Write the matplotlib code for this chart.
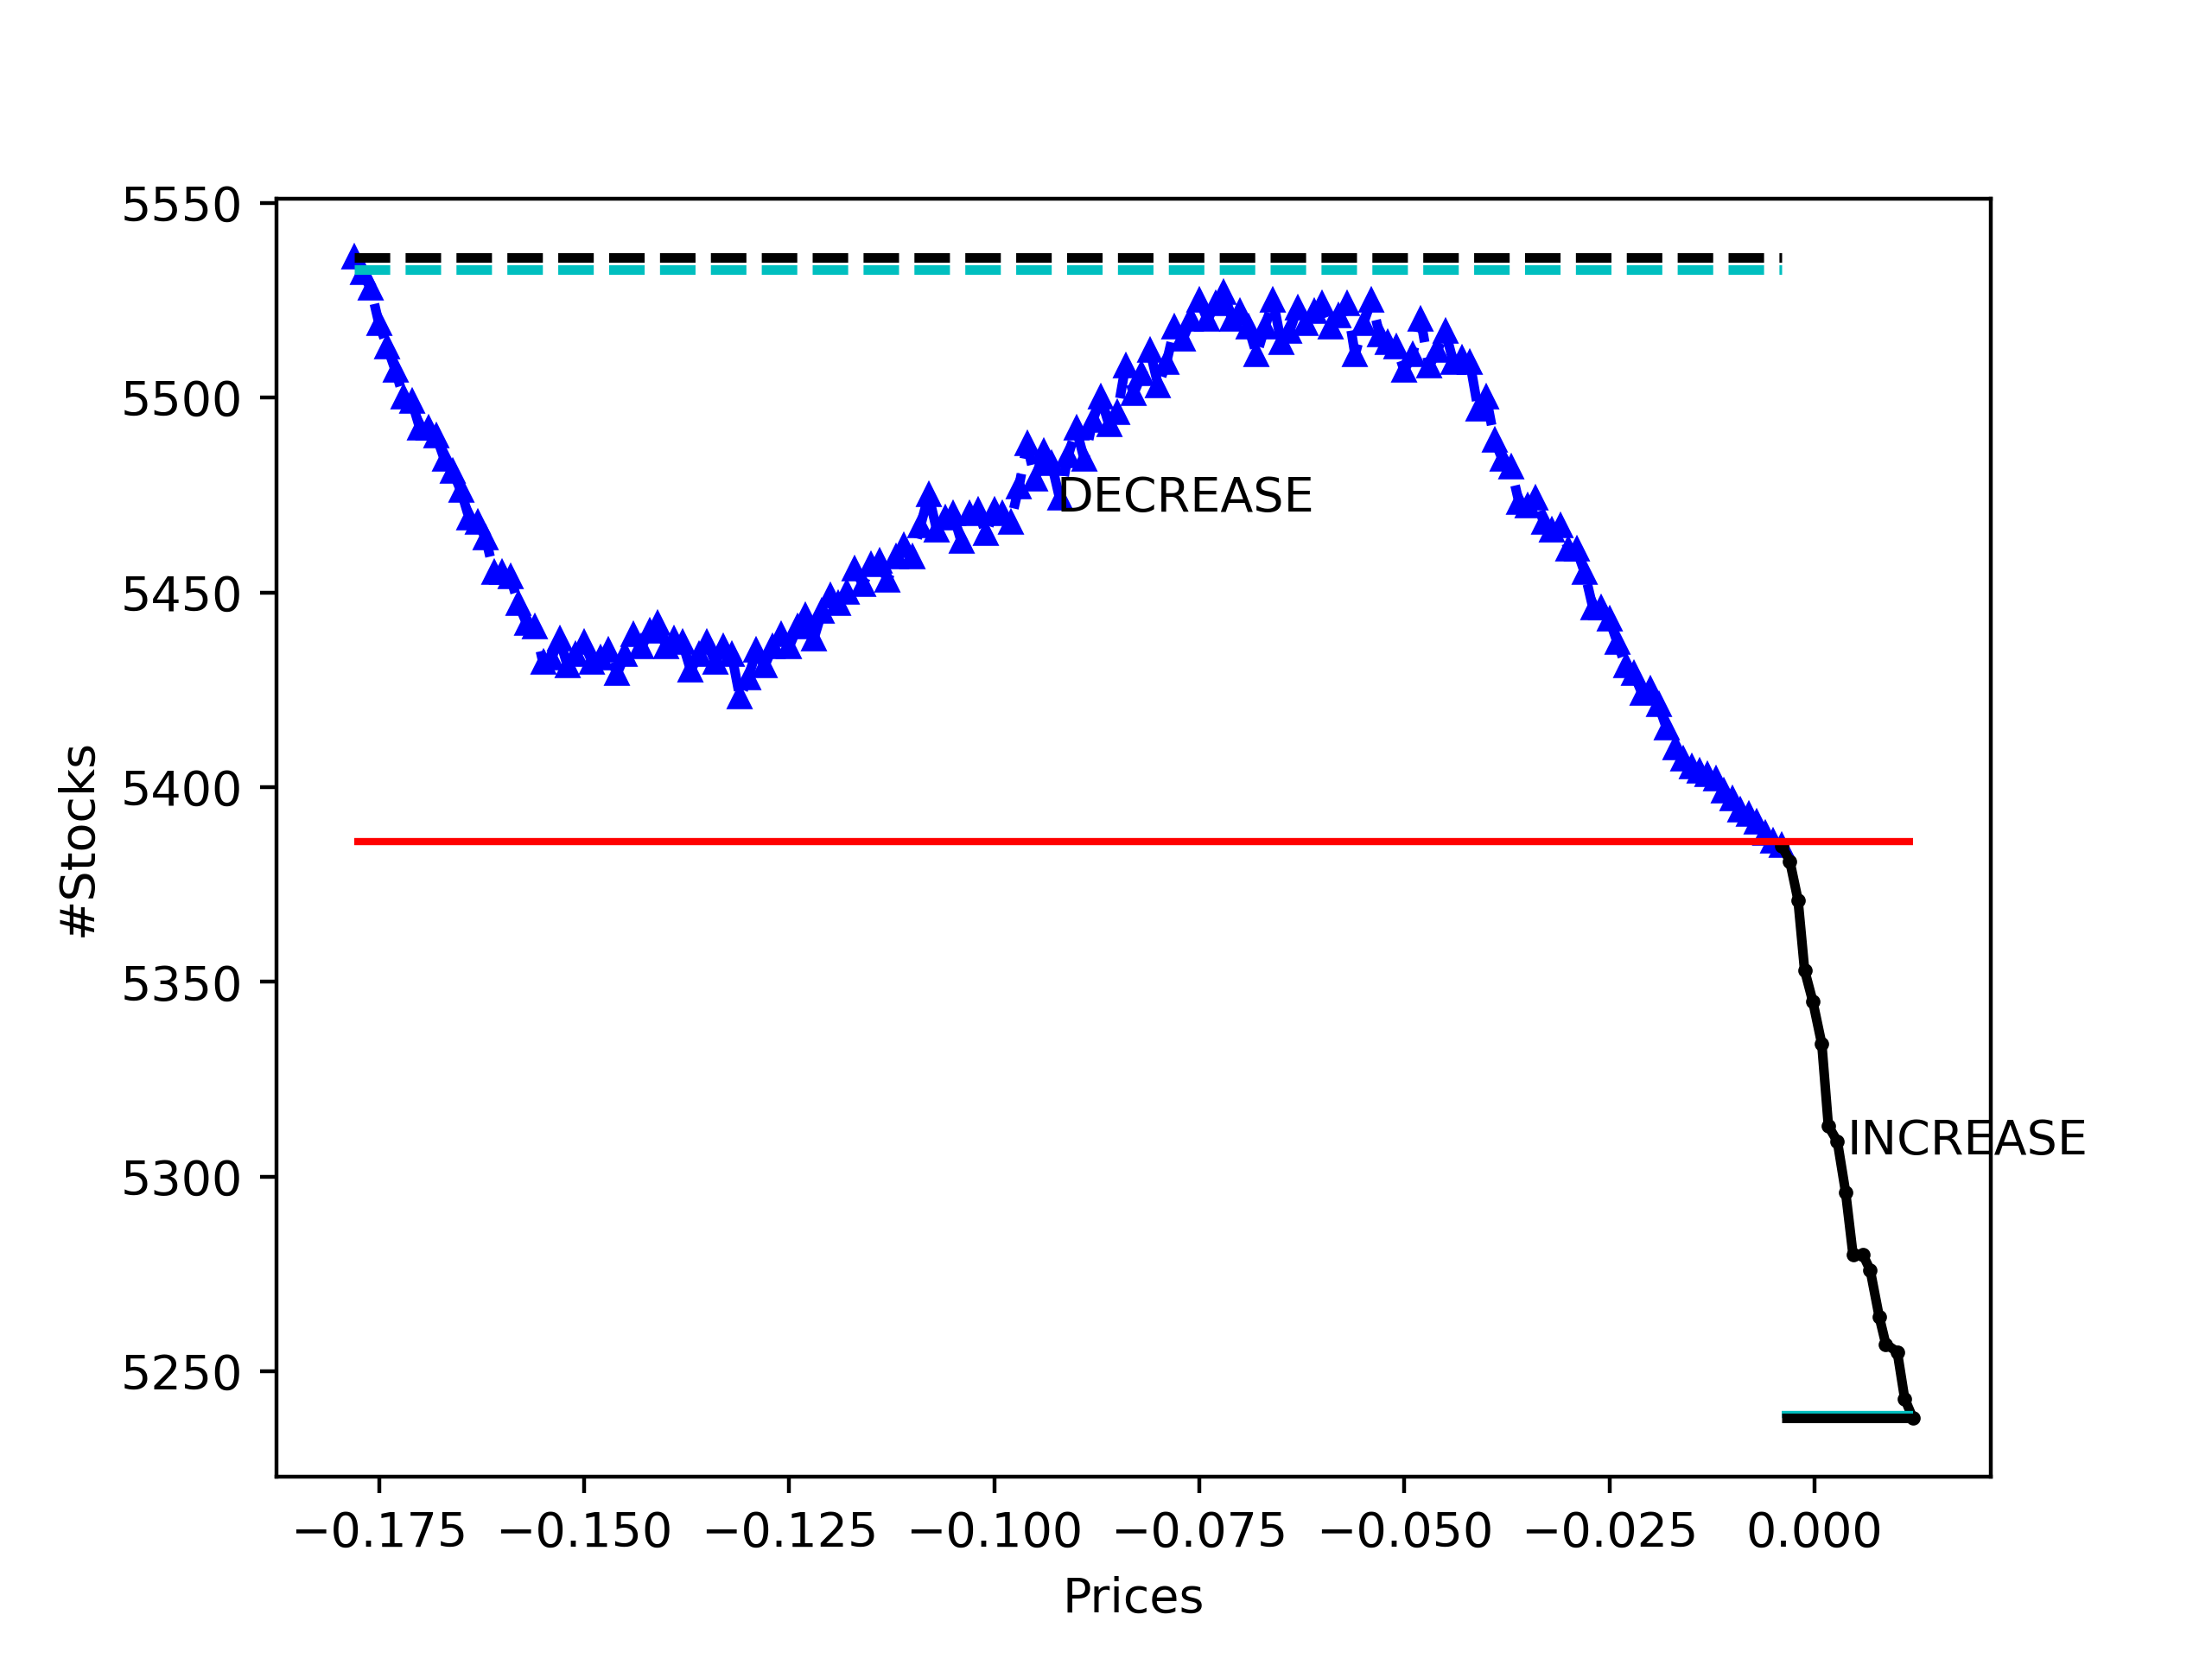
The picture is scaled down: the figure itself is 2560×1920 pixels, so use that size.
import matplotlib
matplotlib.use('Agg')
import matplotlib.pyplot as plt
import numpy as np

# decreasing-price side
dec_prices = np.round(np.arange(-0.178, -0.0035, 0.001), 3)
dec_stocks = [5536, 5532, 5528, 5519, 5513, 5507, 5500, 5499, 5492, 5492,
              5490, 5484, 5481, 5476, 5469, 5468, 5464, 5455, 5455, 5454,
              5447, 5442, 5441, 5432, 5433, 5438, 5431, 5434, 5437, 5432,
              5433, 5435, 5429, 5434, 5439, 5436, 5440, 5442, 5436, 5438,
              5437, 5430, 5434, 5437, 5432, 5436, 5434, 5423, 5428, 5435,
              5431, 5436, 5439, 5436, 5441, 5444, 5438, 5445, 5449, 5447,
              5450, 5456, 5452, 5457, 5458, 5453, 5459, 5462, 5459, 5467,
              5475, 5466, 5469, 5470, 5463, 5470, 5471, 5465, 5471, 5470,
              5468, 5477, 5488, 5479, 5486, 5483, 5474, 5485, 5492, 5484,
              5494, 5500, 5493, 5496, 5508, 5501, 5506, 5512, 5503, 5509,
              5518, 5515, 5520, 5525, 5520, 5524, 5527, 5520, 5522, 5518,
              5511, 5518, 5525, 5514, 5517, 5523, 5519, 5522, 5524, 5518,
              5521, 5524, 5511, 5519, 5525, 5516, 5514, 5513, 5507, 5511,
              5520, 5508, 5512, 5517, 5509, 5510, 5509, 5497, 5500, 5489,
              5484, 5482, 5473, 5472, 5474, 5468, 5466, 5467, 5461, 5461,
              5455, 5446, 5446, 5443, 5437, 5431, 5429, 5424, 5425, 5421,
              5415, 5410, 5407, 5405, 5404, 5403, 5402, 5399, 5397, 5394,
              5393, 5391, 5388, 5386, 5385]

# increasing-price side
inc_prices = [-0.004, -0.003, -0.002, -0.0012, -0.0002, 0.0009, 0.0017, 0.0028,
              0.0038, 0.0047, 0.0059, 0.0068, 0.0079, 0.0087, 0.0101, 0.011, 0.012]
inc_stocks = [5385, 5381, 5371, 5353, 5345, 5334, 5313, 5309, 5296, 5280,
              5280, 5276, 5264, 5257, 5255, 5243, 5238]

dec_max, dec_max2 = 5536, 5533
start_level = 5386
inc_min, inc_min2 = 5238, 5239

plt.figure(figsize=(6.4, 4.8), dpi=400)

plt.plot(dec_prices, dec_stocks, 'b^--', markersize=4, linewidth=2)
plt.plot(inc_prices, inc_stocks, 'k.-', markersize=4, linewidth=2)

plt.hlines(dec_max, dec_prices[0], dec_prices[-1], colors='k', linestyles='--', linewidth=2)
plt.hlines(dec_max2, dec_prices[0], dec_prices[-1], colors='c', linestyles='--', linewidth=2)
plt.hlines(start_level, dec_prices[0], inc_prices[-1], colors='r', linewidth=1.5)
plt.hlines(inc_min2, inc_prices[0], inc_prices[-1], colors='c', linewidth=1.5)
plt.hlines(inc_min, inc_prices[0], inc_prices[-1], colors='k', linewidth=2)

plt.text(-0.0924, 5474, 'DECREASE', va='center')
plt.text(0.004, 5309, 'INCREASE', va='center')

plt.xlabel('Prices')
plt.ylabel('#Stocks')
plt.ylim(5223, 5551)
plt.yticks([5250, 5300, 5350, 5400, 5450, 5500, 5550])

plt.savefig('out.png')
